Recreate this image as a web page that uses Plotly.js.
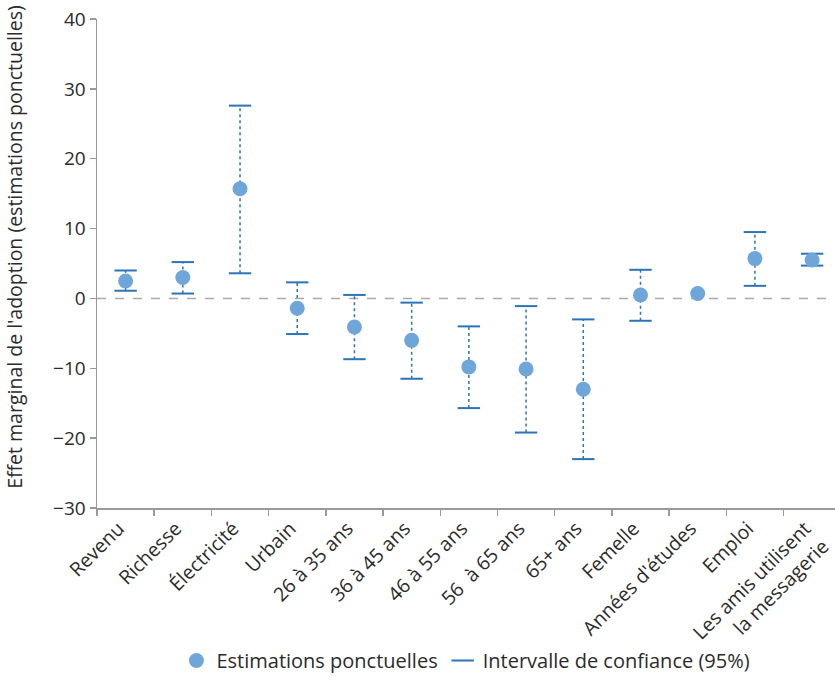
<!DOCTYPE html>
<html>
<head>
<meta charset="utf-8">
<script src="https://cdn.plot.ly/plotly-3.0.1.min.js"></script>
<style>
  html, body { margin: 0; padding: 0; background: #fff; overflow: hidden; }
  #chart { width: 835px; height: 699px; }
</style>
</head>
<body>
<div id="chart"></div>
<script>
// Variables of the model
const categories = [
  "Revenu", "Richesse", "Électricité", "Urbain",
  "26 à 35 ans", "36 à 45 ans", "46 à 55 ans", "56  à 65 ans", "65+ ans",
  "Femelle", "Années d'études", "Emploi", "Les amis utilisent<br>la messagerie"
];

// Point estimates of the marginal effect
const estimates = [2.5, 3.0, 15.7, -1.4, -4.1, -6.0, -9.8, -10.1, -13.0, 0.5, 0.7, 5.7, 5.5];

// 95% confidence interval bounds (null where no interval is shown)
const ciLow  = [1.1, 0.7, 3.6, -5.1, -8.7, -11.5, -15.7, -19.2, -23.0, -3.2, null, 1.8, 4.7];
const ciHigh = [4.0, 5.2, 27.6, 2.3, 0.5, -0.6, -4.0, -1.1, -3.0, 4.1, null, 9.5, 6.4];

const yTitle = "Effet marginal de l'adoption (estimations ponctuelles)";

const pointColor = "#6FA6DA";
const ciColor = "#2A74B8";
const textColor = "#2b2b2b";
const fontFamily = "'Open Sans', 'Noto Sans', sans-serif";

// Dotted stems: one segment per category, separated by gaps
const stemX = [], stemY = [];
categories.forEach((c, i) => {
  if (ciLow[i] === null) return;
  stemX.push(c, c, null);
  stemY.push(ciLow[i], ciHigh[i], null);
});

// Solid caps at both ends of every interval
const capX = [], capY = [];
categories.forEach((c, i) => {
  if (ciLow[i] === null) return;
  capX.push(c, c);
  capY.push(ciLow[i], ciHigh[i]);
});

const stems = {
  type: "scatter", mode: "lines", x: stemX, y: stemY,
  line: { color: ciColor, width: 1.5, dash: "dot" },
  showlegend: false, hoverinfo: "skip", connectgaps: false
};

const caps = {
  type: "scatter", mode: "markers", x: capX, y: capY,
  name: "Intervalle de confiance (95%)",
  marker: { symbol: "line-ew", size: 16, color: ciColor, line: { color: ciColor, width: 2 } },
  legendrank: 2
};

const points = {
  type: "scatter", mode: "markers", x: categories, y: estimates,
  name: "Estimations ponctuelles",
  marker: { symbol: "circle", size: 15, color: pointColor },
  legendrank: 1
};

const layout = {
  width: 835, height: 699,
  margin: { l: 97, r: 0, t: 19, b: 191 },
  paper_bgcolor: "#fff", plot_bgcolor: "#fff",
  font: { family: fontFamily, size: 19, color: textColor },
  showlegend: true,
  legend: {
    orientation: "h", x: 0.558, xanchor: "center", xref: "container",
    y: 0.055, yanchor: "middle", yref: "container",
    bgcolor: "rgba(0,0,0,0)",
    font: { size: 20, color: textColor }, itemwidth: 30, tracegroupgap: 0
  },
  xaxis: {
    type: "category", categoryorder: "array", categoryarray: categories,
    range: [-0.5, 12.4],
    tickson: "boundaries", ticks: "outside", ticklen: 6, tickcolor: "#999", tickwidth: 1.5,
    showline: true, linecolor: "#999", linewidth: 1.5,
    showgrid: false, zeroline: false,
    tickangle: -45, ticklabelshift: -7, tickfont: { size: 19.5, color: textColor }
  },
  yaxis: {
    range: [-30, 40], dtick: 10,
    ticks: "outside", ticklen: 6, tickcolor: "#999", tickwidth: 1.5,
    showline: true, linecolor: "#999", linewidth: 1.5,
    showgrid: false, zeroline: false,
    tickfont: { size: 19, color: textColor }
  },
  annotations: [{
    text: yTitle, textangle: -90, showarrow: false,
    xref: "paper", x: -82 / 738, xanchor: "center",
    yref: "paper", y: 0.534, yanchor: "middle",
    font: { size: 19.5, color: textColor }
  }],
  shapes: [{
    type: "line", xref: "paper", x0: 0, x1: 1, yref: "y", y0: 0, y1: 0,
    line: { color: "#aaa", width: 1.5, dash: "dash" }, layer: "below"
  }]
};

Plotly.newPlot("chart", [stems, caps, points], layout, { displayModeBar: false, staticPlot: true });
</script>
</body>
</html>
